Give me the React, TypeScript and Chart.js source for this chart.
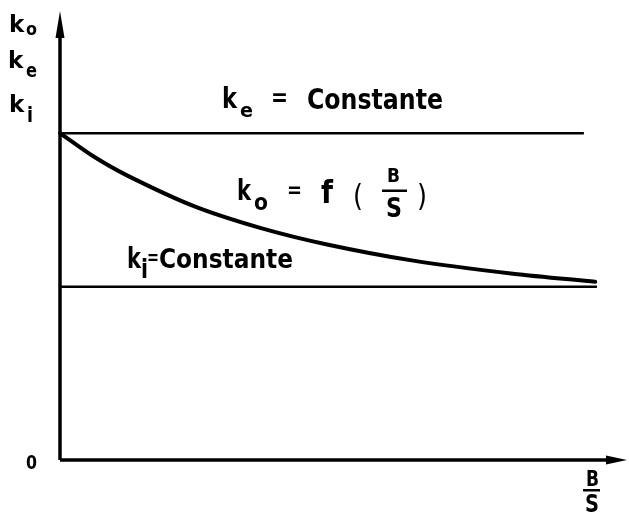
import React, { useEffect, useRef } from "react";
import { Chart, registerables } from "chart.js";

Chart.register(...registerables);

// Data (abstract units: x = B/S, y = k)
const X_MAX = 10;
const Y_MAX = 10;
const keLevel = 7.28;
const kiLevel = 3.86;
const keEnd = 9.24;
const kiEnd = 9.47;
const koX = [0, 0.58, 1.18, 2.35, 3.53, 4.71, 6.23, 7.99, 9.44];
const koY = [7.28, 6.77, 6.34, 5.66, 5.17, 4.8, 4.44, 4.15, 3.97];
const originLabel = "0";

const FONT = '"DejaVu Sans", sans-serif';

function txt(
  ctx: CanvasRenderingContext2D,
  s: string,
  x: number,
  base: number,
  size: number,
  maxW?: number,
  weight = "bold"
) {
  ctx.font = `${weight} ${size}px ${FONT}`;
  if (maxW) ctx.fillText(s, x, base, maxW);
  else ctx.fillText(s, x, base);
}

const annot = {
  id: "annot",
  afterDatasetsDraw(chart: any) {
    const ctx = chart.ctx as CanvasRenderingContext2D;
    const xs = chart.scales.x;
    const ys = chart.scales.y;
    const ox = xs.getPixelForValue(0);
    const oy = ys.getPixelForValue(0);
    ctx.save();
    ctx.fillStyle = "#000";
    // y arrow
    const ty = ys.getPixelForValue(Y_MAX);
    ctx.beginPath();
    ctx.moveTo(ox, ty);
    ctx.lineTo(ox - 4.5, ty + 27);
    ctx.lineTo(ox + 4.5, ty + 27);
    ctx.closePath();
    ctx.fill();
    // x arrow
    const tx = xs.getPixelForValue(X_MAX);
    ctx.beginPath();
    ctx.moveTo(tx, oy);
    ctx.lineTo(tx - 21, oy - 4.5);
    ctx.lineTo(tx - 21, oy + 4.5);
    ctx.closePath();
    ctx.fill();

    ctx.textBaseline = "alphabetic";
    ctx.textAlign = "left";
    // y-axis labels
    txt(ctx, "k", 9, 32, 23, 16);
    txt(ctx, "o", 26, 35, 18, 11);
    txt(ctx, "k", 8, 68, 23, 17);
    txt(ctx, "e", 26, 77, 19, 11);
    txt(ctx, "k", 9, 112, 23, 16);
    txt(ctx, "i", 27, 122, 22, 6);
    // origin
    txt(ctx, originLabel, 26, 469, 19, 11);
    // B/S on x axis
    txt(ctx, "B", 586, 486, 22, 13);
    txt(ctx, "S", 585, 512, 25, 14);
    ctx.fillRect(583, 489, 17, 2.5);

    // ke = Constante
    txt(ctx, "k", 222, 108, 29, 15);
    txt(ctx, "e", 240, 117, 20, 13);
    txt(ctx, "=", 271, 106, 24, 17);
    txt(ctx, "Constante", 307, 109, 28, 136);

    // ko = f ( B/S )
    txt(ctx, "k", 237, 200, 28, 14);
    txt(ctx, "o", 254, 210, 23, 14);
    txt(ctx, "=", 287, 197, 22, 15);
    txt(ctx, "f", 321, 203, 32, 12);
    txt(ctx, "(", 353, 206, 30, 10, "normal");
    txt(ctx, ")", 417, 206, 30, 10, "normal");
    txt(ctx, "B", 387, 182, 20, 13);
    txt(ctx, "S", 386, 217, 27, 16);
    ctx.fillRect(382, 189.5, 25, 2.5);

    // ki=Constante
    txt(ctx, "k", 127, 268, 28, 14);
    txt(ctx, "i", 141, 278, 26, 7);
    txt(ctx, "=", 147, 264, 20, 12);
    txt(ctx, "Constante", 159, 268, 26, 134);
    ctx.restore();
  },
};

export default function App() {
  const ref = useRef<HTMLCanvasElement>(null);
  useEffect(() => {
    if (!ref.current) return;
    const mk = (xsArr: number[], ysArr: number[]) =>
      xsArr.map((v, i) => ({ x: v, y: ysArr[i] }));
    const base = {
      showLine: true,
      borderColor: "#000",
      pointRadius: 0,
      clip: false as const,
    };
    const chart = new Chart(ref.current, {
      type: "scatter",
      data: {
        datasets: [
          { ...base, data: mk([0, 0], [0, Y_MAX - 0.4]), borderWidth: 3.5 },
          { ...base, data: mk([0, X_MAX - 0.3], [0, 0]), borderWidth: 3.5 },
          { ...base, data: mk([0, keEnd], [keLevel, keLevel]), borderWidth: 2.5 },
          { ...base, data: mk([0, kiEnd], [kiLevel, kiLevel]), borderWidth: 2.5 },
          {
            ...base,
            data: mk(koX, koY),
            borderWidth: 4,
            tension: 0.3,
            borderCapStyle: "round",
          },
        ] as any,
      },
      options: {
        animation: false,
        responsive: false,
        layout: { padding: { left: 60, right: 2, top: 11, bottom: 57 } },
        plugins: { legend: { display: false }, tooltip: { enabled: false } },
        scales: {
          x: { type: "linear", min: 0, max: X_MAX, display: false },
          y: { type: "linear", min: 0, max: Y_MAX, display: false },
        },
      },
      plugins: [annot],
    });
    return () => chart.destroy();
  }, []);
  return (
    <div style={{ position: "fixed", left: 0, top: 0, width: 629, height: 517, background: "#fff" }}>
      <canvas ref={ref} width={629} height={517} style={{ width: 629, height: 517 }} />
    </div>
  );
}
